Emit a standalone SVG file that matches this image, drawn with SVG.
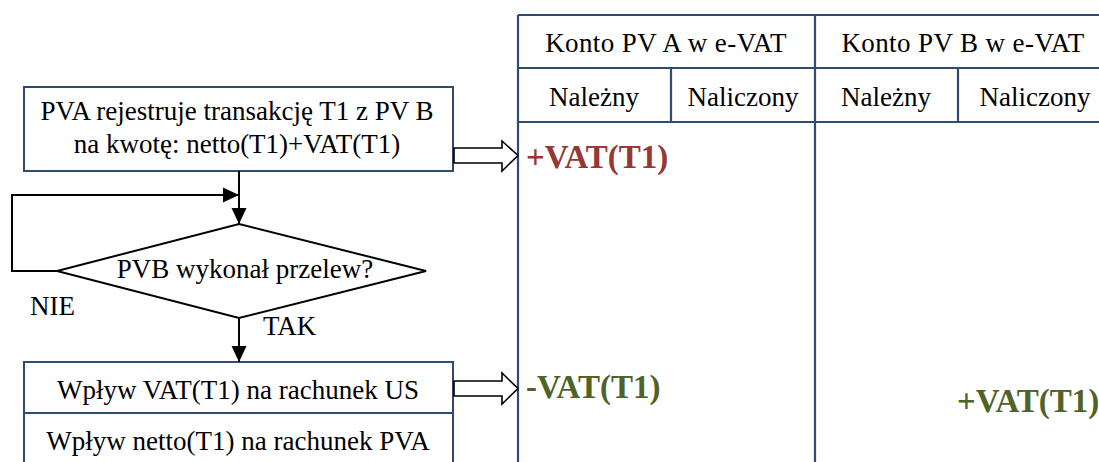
<svg xmlns="http://www.w3.org/2000/svg" width="1099" height="462" viewBox="0 0 1099 462" font-family="Liberation Serif">
<style>
.t{font-size:27px;fill:#000}
.h{font-size:27px;fill:#000;letter-spacing:0.4px}
.c{text-anchor:middle}
.b{font-size:33px;font-weight:bold}
.red{fill:#953735}
.grn{fill:#4F6228}
.box{fill:#fff;stroke:#2F4B70;stroke-width:2}
.tbl{stroke:#2F4B70;stroke-width:2.2;fill:none}
.ln{stroke:#000;stroke-width:2;fill:none}
.blk{fill:#fff;stroke:#000;stroke-width:1.6;stroke-linejoin:miter}
</style>
<defs>
<marker id="ah" markerUnits="userSpaceOnUse" markerWidth="16" markerHeight="16" viewBox="0 0 16 16" refX="16" refY="8" orient="auto">
<path d="M0,0.5 L16,8 L0,15.5 Z" fill="#000"/>
</marker>
</defs>
<rect width="1099" height="462" fill="#fff"/>
<g id="table" font-family="Liberation Serif">
<path class="tbl" d="M518,15 H1099 M518,68 H1099 M518,122 H1099 M518,15 V462 M815,15 V462 M671,68 V122 M958,68 V122"/>
<text class="h c" x="666" y="52">Konto PV A w e-VAT</text>
<text class="h c" x="963" y="52">Konto PV B w e-VAT</text>
<text class="t c" x="594" y="106">Należny</text>
<text class="t c" x="743" y="106">Naliczony</text>
<text class="t c" x="886" y="106">Należny</text>
<text class="t c" x="1035" y="106">Naliczony</text>
<text class="b red" x="526" y="168">+VAT(T1)</text>
<text class="b grn" x="526" y="398">-VAT(T1)</text>
<text class="b grn" x="957" y="412">+VAT(T1)</text>
</g>
<g id="n1" font-family="Liberation Serif">
<rect class="box" x="24" y="87" width="429" height="84"/>
<text class="t c" x="237" y="120">PVA rejestruje transakcję T1 z PV B</text>
<text class="t c" x="237" y="153">na kwotę: netto(T1)+VAT(T1)</text>
</g>
<g id="n2" font-family="Liberation Serif">
<polygon points="239,224 426,271 239,318 57,271" fill="#fff" stroke="#000" stroke-width="2"/>
<text class="t c" x="245" y="278">PVB wykonał przelew?</text>
</g>
<g id="n3" font-family="Liberation Serif">
<rect class="box" x="24" y="362" width="429" height="110"/>
<line x1="24" y1="413" x2="453" y2="413" stroke="#2F4B70" stroke-width="2"/>
<text class="t c" x="238" y="399">Wpływ VAT(T1) na rachunek US</text>
<text class="t c" x="238" y="450">Wpływ netto(T1) na rachunek PVA</text>
</g>
<g id="connectors" font-family="Liberation Serif">
<line class="ln" x1="239" y1="171" x2="239" y2="224" marker-end="url(#ah)"/>
<polyline class="ln" points="57,271 12,271 12,195 239,195" marker-end="url(#ah)"/>
<line class="ln" x1="239" y1="318" x2="239" y2="362" marker-end="url(#ah)"/>
<polygon class="blk" points="454,148 502,148 502,141 518,155.5 502,171 502,163 454,163"/>
<polygon class="blk" points="454,381 502,381 502,373 518,388.5 502,404 502,396 454,396"/>
<text class="t" x="30" y="315">NIE</text>
<text class="t" x="263" y="335">TAK</text>
</g>
</svg>
